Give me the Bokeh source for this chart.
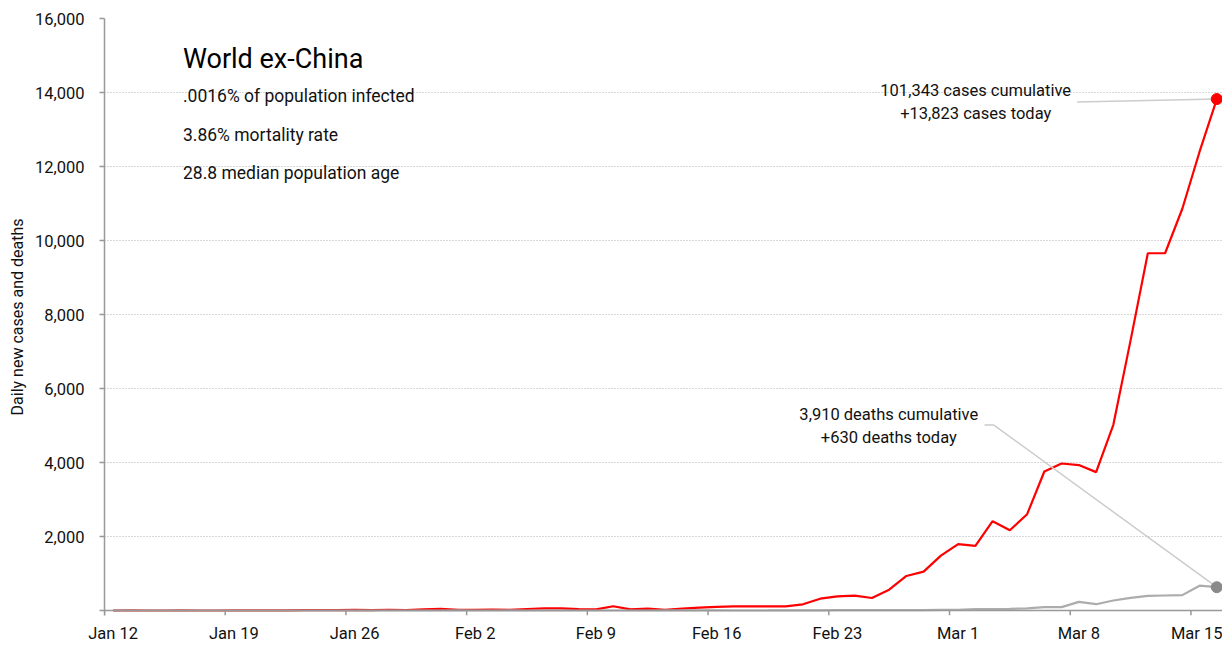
import pandas as pd
from bokeh.plotting import figure
from bokeh.models import Range1d, FixedTicker, NumeralTickFormatter, Span
from bokeh.core.properties import value
from bokeh.embed import file_html
from bokeh.resources import INLINE

# ---------------- data ----------------
start_date = "2020-01-12"
cases = [0, 1, 0, 0, 1, 0, 0, 1, 3,
         5, 5, 9, 10, 10, 16, 12, 20, 14, 32, 45,
         20, 15, 22, 15, 40, 55, 60, 35, 30,
         115,
         30, 50, 20, 50, 80, 100, 110, 115, 110, 110,
         168, 319, 384, 400, 338, 563, 934, 1050, 1483,
         1792, 1746, 2414, 2170, 2603, 3756, 3973, 3930, 3740, 5020,
         7300, 9656, 9656, 10858, 12400, 13823]
deaths = [0, 0, 0, 0, 0, 0, 0, 0, 0, 0, 0, 0, 0, 0, 0, 0, 0, 0, 0, 0,
          1, 0, 0, 1, 0, 0, 0, 0, 0, 0, 0, 0, 1, 1, 1, 1, 0, 0, 1, 3,
          4, 5, 8, 12, 9, 12, 14, 10, 15,
          20, 35, 40, 45, 60, 90, 90, 232, 170, 270, 340, 395, 405, 415, 670, 630]
tick_dates = ["2020-01-12", "2020-01-19", "2020-01-26", "2020-02-02", "2020-02-09",
              "2020-02-16", "2020-02-23", "2020-03-01", "2020-03-08", "2020-03-15"]
tick_labels = ["Jan 12", "Jan 19", "Jan 26", "Feb 2", "Feb 9",
               "Feb 16", "Feb 23", "Mar 1", "Mar 8", "Mar 15"]
y_ticks = [0, 2000, 4000, 6000, 8000, 10000, 12000, 14000, 16000]

title = "World ex-China"
subtitles = [".0016% of population infected", "3.86% mortality rate", "28.8 median population age"]
case_note = ["101,343 cases cumulative", "+13,823 cases today"]
death_note = ["3,910 deaths cumulative", "+630 deaths today"]

# ---------------- helpers ----------------
start = pd.Timestamp(start_date)
dates = pd.date_range(start, periods=len(cases), freq="D")
xs = [float(d) + 0.5 for d in (dates - start).days]   # daily values plotted at midday
tick_pos = [float((pd.Timestamp(t) - start).days) for t in tick_dates]   # midnight
label_pos = [t + 0.5 for t in tick_pos]                                  # midday

FONT = "Roboto"
TXT = "#111111"
AX = "#999999"
TICK_LEN = 135   # x-axis tick length in y data units (~5 px)

p = figure(width=1222, height=645, output_backend="svg", toolbar_location=None,
           x_range=Range1d(0, 64.83), y_range=Range1d(-TICK_LEN, 16000),
           min_border_left=104, min_border_right=0, min_border_top=18, min_border_bottom=30)
p.outline_line_color = None
p.background_fill_color = "white"
p.border_fill_color = "white"

# grid
p.xgrid.grid_line_color = None
p.ygrid.ticker = FixedTicker(ticks=y_ticks[1:])
p.ygrid.grid_line_color = "#b0b0b0"
p.ygrid.grid_line_dash = "1 2"
p.ygrid.grid_line_width = 1

# x axis: labels centred on the day, no line (baseline drawn at y=0 below)
xa = p.xaxis[0]
xa.ticker = FixedTicker(ticks=label_pos)
xa.major_label_overrides = {t: l for t, l in zip(label_pos, tick_labels)}
xa.axis_line_color = None
xa.major_tick_line_color = None
xa.minor_tick_line_color = None
xa.major_tick_out = 0
xa.major_tick_in = 0
xa.major_label_standoff = 8
xa.major_label_text_font = FONT
xa.major_label_text_font_size = "16.5px"
xa.major_label_text_color = TXT

# y axis
ya = p.yaxis[0]
ya.ticker = FixedTicker(ticks=y_ticks)
ya.formatter = NumeralTickFormatter(format="0,0")
ya.major_label_overrides = {0: ""}
ya.axis_label = "Daily new cases and deaths"
ya.axis_line_color = AX
ya.axis_line_width = 1.5
ya.major_tick_line_color = AX
ya.major_tick_line_width = 1.5
ya.major_tick_out = 5
ya.major_tick_in = 0
ya.minor_tick_line_color = None
ya.major_label_text_font = FONT
ya.major_label_text_font_size = "16.5px"
ya.major_label_text_color = TXT
ya.major_label_standoff = 15
ya.axis_label_text_font = FONT
ya.axis_label_text_font_size = "16px"
ya.axis_label_text_font_style = "normal"
ya.axis_label_text_color = TXT
ya.axis_label_standoff = 5

# lines
p.line(xs, cases, line_color="#ff0000", line_width=2.2)
p.line(xs, deaths, line_color="#a3a3a3", line_width=2.2, line_alpha=0.9)

# x baseline and midnight tick marks
p.add_layout(Span(location=0, dimension="width", line_color=AX, line_width=1.5))
p.segment(x0=tick_pos, y0=[0] * len(tick_pos), x1=tick_pos, y1=[-TICK_LEN] * len(tick_pos),
          line_color=AX, line_width=1.5)

# connectors
p.line([56.4, xs[-1]], [13743, cases[-1]], line_color="#cccccc", line_width=1.5)
p.line([51.03, 51.57, xs[-1]], [5012, 5012, deaths[-1]], line_color="#cccccc", line_width=1.5)

# end dots
p.scatter([xs[-1]], [cases[-1]], size=11, fill_color="#ff0000", line_color="#ff0000")
p.scatter([xs[-1]], [deaths[-1]], size=11, fill_color="#8a8a8a", line_color="#8a8a8a")

# texts
p.text(x=[4.55], y=[14900], text=[title], text_font=value(FONT), text_font_size="27px",
       text_align="left", text_baseline="alphabetic", text_color="#000000")
p.text(x=[4.55, 4.55, 4.55], y=[13896, 12856, 11828], text=subtitles, text_font=value(FONT),
       text_font_size="17.5px", text_align="left", text_baseline="alphabetic", text_color=TXT)
p.text(x=[50.52, 50.52], y=[14067, 13424], text=case_note, text_font=value(FONT),
       text_font_size="16.5px", text_align="center", text_baseline="alphabetic", text_color=TXT)
p.text(x=[45.48, 45.48], y=[5300, 4669], text=death_note, text_font=value(FONT),
       text_font_size="16.5px", text_align="center", text_baseline="alphabetic", text_color=TXT)

open("out.html", "w").write(file_html(p, INLINE))
